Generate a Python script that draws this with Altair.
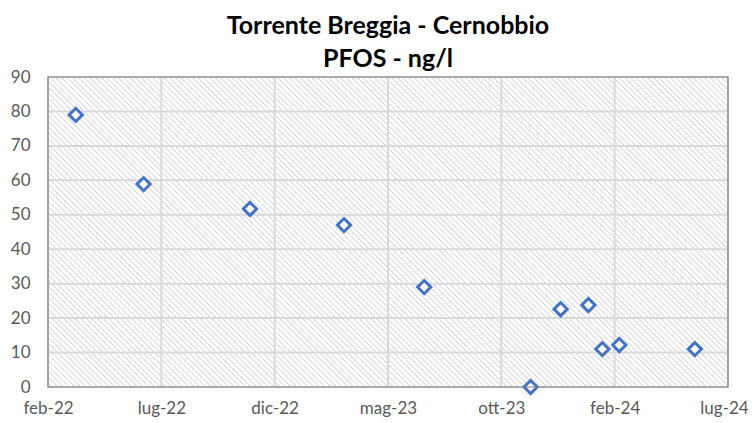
import altair as alt
import pandas as pd

# ---------------- data ----------------
title_lines = ["Torrente Breggia - Cernobbio", "PFOS - ng/l"]

sample_dates = ["2022-03-28", "2022-06-24", "2022-11-09", "2023-03-11", "2023-06-23",
                "2023-11-08", "2023-12-17", "2024-01-22", "2024-02-09", "2024-03-02",
                "2024-06-08"]
pfos_values = [79.0, 58.9, 51.7, 47.0, 29.0, 0.0, 22.6, 23.8, 11.0, 12.2, 11.0]

x_tick_dates = ["2022-02-20", "2022-07-17", "2022-12-11", "2023-05-07",
                "2023-10-01", "2024-02-25", "2024-07-21"]
month_names = ["gen", "feb", "mar", "apr", "mag", "giu",
               "lug", "ago", "set", "ott", "nov", "dic"]
y_ticks = [0, 10, 20, 30, 40, 50, 60, 70, 80, 90]

# ---------------- layout / style ----------------
W, H = 680, 310
GRID = "#d9d9d9"
LABEL = "#595959"
BLUE = "#4472C4"


def ms(d):
    return int(pd.Timestamp(d, tz="UTC").value // 10**6)


tick_ms = [ms(d) for d in x_tick_dates]

# hatch pattern emulated by a striped linear gradient ("\\\" direction)
r = H / W
a = (1 + r) / (1 + r * r)
n_stripes = 174
stops = []
for k in range(n_stripes):
    base = k / n_stripes
    step = 1 / n_stripes
    stops.append(alt.GradientStop(offset=round(base, 6), color="#ffffff"))
    stops.append(alt.GradientStop(offset=round(base + 0.60 * step, 6), color="#ffffff"))
    stops.append(alt.GradientStop(offset=round(base + 0.70 * step, 6), color="#d3d3d3"))
    stops.append(alt.GradientStop(offset=round(base + 0.79 * step, 6), color="#d3d3d3"))
    stops.append(alt.GradientStop(offset=round(base + 0.89 * step, 6), color="#ffffff"))
stops.append(alt.GradientStop(offset=1, color="#ffffff"))
hatch = alt.LinearGradient(gradient="linear", stops=stops,
                           x1=0, y1=1, x2=round(a, 6), y2=round(1 - a * r, 6))

month_arr = "[" + ",".join("'" + m + "'" for m in month_names) + "]"
label_expr = month_arr + "[utcmonth(datum.value)] + '-' + utcFormat(datum.value, '%y')"

x_scale = alt.Scale(type="utc", domain=[tick_ms[0], tick_ms[-1]], nice=False)
y_scale = alt.Scale(domain=[0, 90], nice=False, zero=False)

x_axis = alt.Axis(values=tick_ms, labelExpr=label_expr, title=None, grid=False,
                  ticks=False, domain=False, labelFont="Lato", labelFontSize=17,
                  labelColor=LABEL, labelPadding=13, labelFlush=False,
                  labelOverlap=False, labelBound=False,
                  labelOffset={"condition": {"test": "time(datum.value) >= %d" % tick_ms[-1],
                                             "value": -4}, "value": 0})
y_axis = alt.Axis(values=y_ticks, title=None, grid=False, ticks=False, domain=False,
                  labelFont="Lato", labelFontSize=17, labelColor=LABEL,
                  labelPadding=18, labelOverlap=False)

one_row = alt.Data(values=[{"k": 0}])

background = alt.Chart(one_row).mark_rect(fill=hatch).encode(
    x=alt.value(0), x2=alt.value("width"), y=alt.value(0), y2=alt.value("height"))

vgrid = alt.Chart(pd.DataFrame({"date": x_tick_dates})).mark_rule(
    color=GRID, strokeWidth=2).encode(
    x=alt.X("date:T", scale=x_scale, axis=x_axis))

hgrid = alt.Chart(pd.DataFrame({"v": y_ticks})).mark_rule(
    color=GRID, strokeWidth=2).encode(
    y=alt.Y("v:Q", scale=y_scale, axis=y_axis))

points = alt.Chart(pd.DataFrame({"date": sample_dates, "pfos": pfos_values})).mark_point(
    shape="diamond", size=175, filled=True, fill="#ffffff", stroke=BLUE,
    strokeWidth=3, opacity=1).encode(
    x=alt.X("date:T", scale=x_scale, axis=x_axis),
    y=alt.Y("pfos:Q", scale=y_scale, axis=y_axis))

border = alt.Chart(one_row).mark_rect(fillOpacity=0, stroke="#7f7f7f", strokeWidth=1.2).encode(
    x=alt.value(0), x2=alt.value("width"), y=alt.value(0), y2=alt.value("height"))

chart = alt.layer(background, vgrid, hgrid, points, border).properties(
    width=W, height=H,
    title=alt.Title(title_lines, font="Lato", fontSize=25, fontWeight="bold",
                    color="#000000", lineHeight=33, anchor="middle", offset=1, dy=5),
    autosize=alt.AutoSizeParams(type="none"),
    padding={"left": 40, "top": 69, "right": 20, "bottom": 33},
).configure_view(strokeWidth=0)

chart.save("out.html", embed_options={"renderer": "svg", "actions": False})
